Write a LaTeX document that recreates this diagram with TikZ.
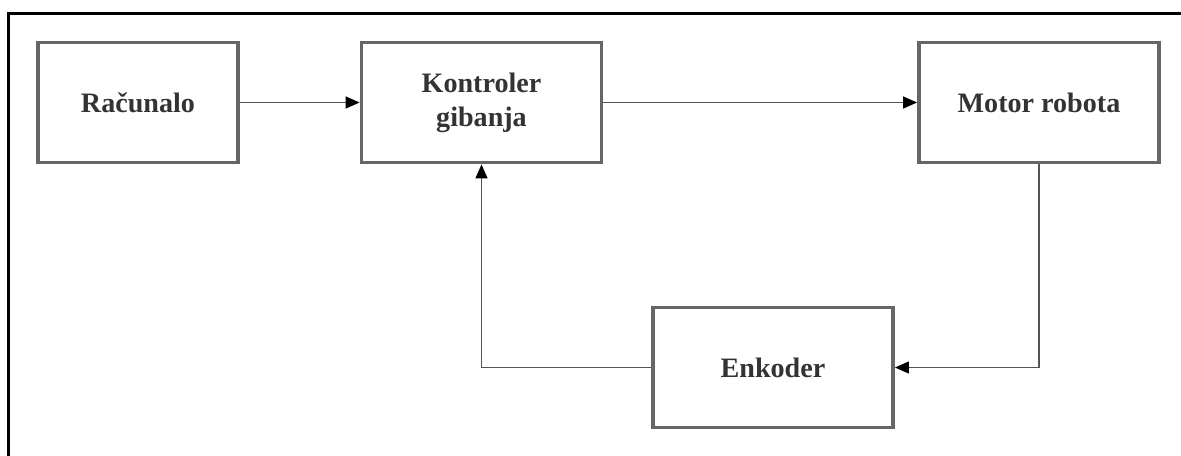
\documentclass[tikz,border=0pt]{standalone}
\usepackage{fontspec}
\setmainfont{Liberation Serif}
\usepackage{tikz}
\usetikzlibrary{arrows.meta}
\definecolor{boxgray}{HTML}{666666}
\definecolor{txtgray}{HTML}{333333}
\definecolor{linegray}{HTML}{555555}

\begin{document}
\begin{tikzpicture}[line cap=butt,line join=miter,x=0.02cm,y=-0.02cm,
    blok/.style={draw=boxgray,line width=2.2pt,fill=white,text=txtgray,
        font=\fontsize{16}{19.4}\selectfont\bfseries,align=center,
        minimum height=120*0.02cm,inner sep=0pt},
    veza/.style={draw=linegray,line width=0.8pt,
        -{Triangle[length=0.28cm,width=0.24cm,color=black]}}]
    \useasboundingbox (0,0) rectangle (1181,456);
    % okvir
    \draw[black, line width=1.9pt] (8.5,456) -- (8.5,13.5) -- (1181,13.5);

    \node[blok, minimum width=200*0.02cm] (racunalo) at (138,102.5) {Računalo};
    \node[blok, minimum width=240*0.02cm] (kontroler) at (481.5,102.5) {Kontroler\\gibanja};
    \node[blok, minimum width=240*0.02cm] (motor) at (1039,102.5) {Motor robota};
    \node[blok, minimum width=240*0.02cm] (enkoder) at (773,367.5) {Enkoder};

    \draw[veza] (racunalo) -- (kontroler);
    \draw[veza] (kontroler) -- (motor);
    \draw[veza] (motor.south) |- (enkoder.east);
    \draw[veza] (enkoder.west) -| (kontroler.south);
\end{tikzpicture}
\end{document}
